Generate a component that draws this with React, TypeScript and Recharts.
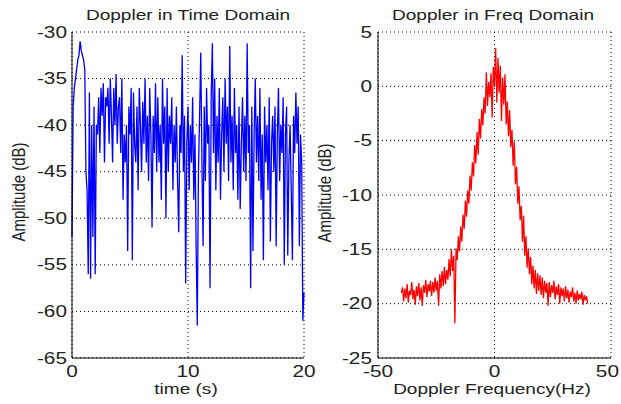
import React from 'react';
import { LineChart, Line, XAxis, YAxis, CartesianGrid } from 'recharts';

// ---- Data ----
const TIME_STEP_S = 0.1;
const timeAmplitudeDb = [
  -52, -38, -36, -35, -34, -33, -32.5, -31, -32, -32.5,
  -33, -34, -45, -47, -56, -36.5, -56.5, -40, -52, -38,
  -56, -40, -41, -37, -43, -36, -39, -35.5, -44, -37,
  -38, -36, -42, -35, -39, -44, -36, -40, -34.5, -42,
  -38, -37, -43, -35, -48, -41, -44, -40, -53.5, -38,
  -41, -36, -54.5, -36.5, -42, -44, -38, -47, -36, -40,
  -45, -37.5, -42, -35, -44, -39, -46, -36, -41, -51,
  -39, -43, -35.5, -45, -37, -44, -40, -48, -35, -42,
  -38, -50, -36, -45, -39, -42, -37, -47, -40, -44,
  -38, -46, -51.5, -40, -43, -32.5, -45, -39, -57, -42,
  -38, -47, -40, -44, -37, -48, -41, -53, -61.5, -45,
  -39, -32.2, -44, -53, -38, -46, -36, -42, -40, -57.5,
  -37, -31.2, -43, -35, -47, -39, -44, -36, -48, -41,
  -37, -45, -35, -42, -38, -46, -31.5, -44, -39, -47,
  -36, -43, -40, -48, -38, -49, -42, -37, -45, -39,
  -46, -31.2, -43, -40, -57.5, -38, -53.5, -41, -35, -44,
  -39, -46, -36, -48, -41, -54.5, -38, -44, -40, -47,
  -37, -52.5, -42, -39, -45, -38, -53, -41, -36, -46,
  -40, -43, -37, -55, -41, -38, -54, -44, -40, -47,
  -54.5, -39, -43, -36.5, -42, -38, -53, -41, -44, -61,
  -58,
];

const FREQ_START_HZ = -40;
const FREQ_STEP_HZ = 0.5;
const freqAmplitudeDb = [
  -19.0, -18.5, -19.8, -18.6, -19.5, -18.2, -19.9, -18.8, -19.2, -18.0,
  -19.6, -18.7, -20.1, -18.4, -19.3, -18.1, -19.7, -18.5, -20.2, -18.3,
  -19.0, -17.8, -19.4, -18.2, -18.9, -17.9, -19.3, -18.0, -19.0, -17.6,
  -18.8, -17.9, -20.2, -17.3, -18.6, -17.0, -18.4, -16.6, -18.2, -16.9,
  -17.8, -15.9, -17.5, -15.0, -17.0, -15.6, -21.8, -14.9, -16.0, -13.8,
  -15.2, -12.9, -14.3, -11.8, -13.1, -10.5, -12.0, -9.6, -10.8, -8.2,
  -9.6, -7.0, -8.3, -5.4, -7.1, -4.2, -6.3, -3.0, -4.8, -2.1,
  -3.6, -1.0, -2.5, 1.3, -1.8, 0.4, -1.0, 1.2, -2.9, 1.8,
  0.0, 3.5, -1.5, 2.6, -0.6, 1.9, -3.2, 0.8, -1.7, 1.1,
  -3.5, -1.4, -4.6, -2.2, -5.6, -4.0, -7.3, -5.1, -9.0, -7.4,
  -10.8, -9.2, -12.3, -11.0, -14.3, -11.9, -15.6, -13.8, -16.7, -14.9,
  -17.3, -15.7, -18.2, -16.5, -18.6, -16.9, -19.1, -17.2, -18.8, -17.4,
  -19.2, -17.6, -19.5, -17.9, -19.0, -18.1, -20.2, -18.0, -19.4, -18.3,
  -19.0, -17.9, -19.6, -18.4, -19.2, -18.2, -20.0, -18.5, -19.3, -18.6,
  -19.8, -18.4, -19.5, -18.7, -19.9, -18.9, -19.4, -18.5, -19.8, -19.0,
  -20.0, -18.8, -19.7, -19.1, -19.6, -18.9, -20.1, -19.2, -19.7, -19.3,
  -20.0,
];

const timeTicks = [0, 10, 20];
const timeAmpTicks = [-65, -60, -55, -50, -45, -40, -35, -30];
const freqTicks = [-50, 0, 50];
const freqAmpTicks = [-25, -20, -15, -10, -5, 0, 5];

const timeData = timeAmplitudeDb.map((v, i) => ({ t: Math.round(i * TIME_STEP_S * 10) / 10, v }));
const freqData = freqAmplitudeDb.map((v, i) => ({ f: FREQ_START_HZ + i * FREQ_STEP_HZ, v }));

// ---- Styling ----
const FONT = '"Liberation Sans", Arial, Helvetica, sans-serif';
const TEXT = '#222';
const TICK_SX = 1.3;
const LABEL_SX = 1.27;

const YTick = (props: any) => {
  const { x, y, payload } = props;
  return (
    <g transform={`translate(${x},${y}) scale(${TICK_SX},1)`}>
      <text x={0} y={0} dy={5.6} textAnchor="end" fontSize={16} fontFamily={FONT} fill={TEXT}>
        {payload.value}
      </text>
    </g>
  );
};

const XTick = (props: any) => {
  const { x, y, payload, maxX } = props;
  const label = String(payload.value);
  const halfW = (label.length * 8.9 * TICK_SX) / 2;
  const shift = maxX !== undefined ? Math.min(0, maxX - (x + halfW)) : 0;
  return (
    <g transform={`translate(${x + shift},${y}) scale(${TICK_SX},1)`}>
      <text x={0} y={0} dy={11.5} textAnchor="middle" fontSize={16} fontFamily={FONT} fill={TEXT}>
        {label}
      </text>
    </g>
  );
};

const HText = ({ x, y, children }: any) => (
  <g transform={`translate(${x},${y}) scale(${LABEL_SX},1)`}>
    <text x={0} y={0} textAnchor="middle" fontSize={15} fontFamily={FONT} fill={TEXT}>
      {children}
    </text>
  </g>
);

const VText = ({ x, y, children }: any) => (
  <g transform={`translate(${x},${y}) scale(${LABEL_SX},1) rotate(-90)`}>
    <text x={0} y={0} textAnchor="middle" fontSize={15} fontFamily={FONT} fill={TEXT}>
      {children}
    </text>
  </g>
);

export default function App() {
  return (
    <div style={{ position: 'absolute', left: 0, top: 0, width: 621, height: 404, background: '#fff' }}>
      <div style={{ position: 'absolute', left: 0, top: 0 }}>
        <LineChart width={320} height={404} data={timeData} margin={{ top: 32, right: 16, bottom: 16, left: 0 }}>
          <CartesianGrid stroke="#000" strokeDasharray="1 3" fill="none" />
          <XAxis
            dataKey="t"
            type="number"
            domain={[0, 20]}
            ticks={timeTicks}
            height={30}
            tickSize={0}
            tickMargin={7}
            tickLine={false}
            axisLine={{ stroke: '#000', strokeWidth: 1 }}
            tick={<XTick />}
            interval={0}
          />
          <YAxis
            type="number"
            domain={[-65, -30]}
            ticks={timeAmpTicks}
            width={72}
            tickSize={0}
            tickMargin={5}
            tickLine={false}
            axisLine={{ stroke: '#000', strokeWidth: 1 }}
            tick={<YTick />}
            interval={0}
            allowDataOverflow
          />
          <Line dataKey="v" type="linear" stroke="#0000ff" strokeWidth={1.3} dot={false} isAnimationActive={false} />
        </LineChart>
      </div>
      <div style={{ position: 'absolute', left: 306, top: 0 }}>
        <LineChart width={315} height={404} data={freqData} margin={{ top: 32, right: 10, bottom: 16, left: 0 }}>
          <CartesianGrid stroke="#000" strokeDasharray="1 3" fill="none" />
          <XAxis
            dataKey="f"
            type="number"
            domain={[-50, 50]}
            ticks={freqTicks}
            height={30}
            tickSize={0}
            tickMargin={7}
            tickLine={false}
            axisLine={{ stroke: '#000', strokeWidth: 1 }}
            tick={<XTick maxX={313} />}
            interval={0}
          />
          <YAxis
            type="number"
            domain={[-25, 5]}
            ticks={freqAmpTicks}
            width={72}
            tickSize={0}
            tickMargin={6}
            tickLine={false}
            axisLine={{ stroke: '#000', strokeWidth: 1 }}
            tick={<YTick />}
            interval={0}
            allowDataOverflow
          />
          <Line dataKey="v" type="linear" stroke="#ff0000" strokeWidth={1.3} dot={false} isAnimationActive={false} />
        </LineChart>
      </div>
      <svg width={621} height={404} style={{ position: 'absolute', left: 0, top: 0, pointerEvents: 'none' }}>
        <HText x={188} y={20}>Doppler in Time Domain</HText>
        <HText x={493} y={20}>Doppler in Freq Domain</HText>
        <HText x={186} y={394}>time (s)</HText>
        <HText x={492} y={394}>Doppler Frequency(Hz)</HText>
        <VText x={24.5} y={192}>Amplitude (dB)</VText>
        <VText x={331} y={193}>Amplitude (dB)</VText>
      </svg>
    </div>
  );
}
